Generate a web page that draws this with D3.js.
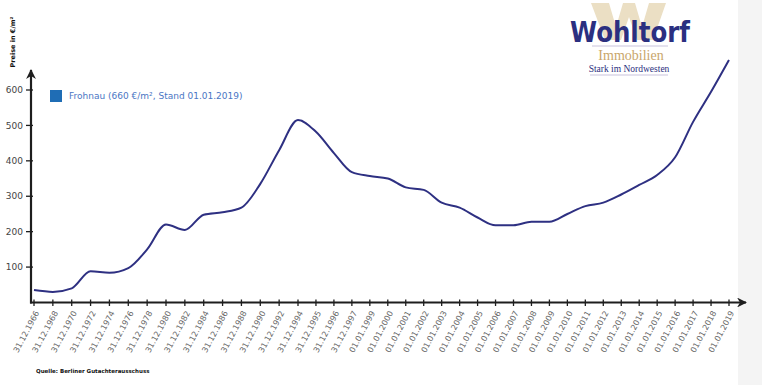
<!DOCTYPE html>
<html>
<head>
<meta charset="utf-8">
<script src="https://cdn.jsdelivr.net/npm/d3@7"></script>
<style>
  body { margin: 0; background: #fff; }
  svg { display: block; font-family: "DejaVu Sans", Verdana, sans-serif; }
</style>
</head>
<body>
<div class="holder"></div>
<script>
"use strict";

const dates = [
  "31.12.1966", "31.12.1968", "31.12.1970", "31.12.1972", "31.12.1974",
  "31.12.1976", "31.12.1978", "31.12.1980", "31.12.1982", "31.12.1984",
  "31.12.1986", "31.12.1988", "31.12.1990", "31.12.1992", "31.12.1994",
  "31.12.1995", "31.12.1996", "31.12.1997", "01.01.1999", "01.01.2000",
  "01.01.2001", "01.01.2002", "01.01.2003", "01.01.2004", "01.01.2005",
  "01.01.2006", "01.01.2007", "01.01.2008", "01.01.2009", "01.01.2010",
  "01.01.2011", "01.01.2012", "01.01.2013", "01.01.2014", "01.01.2015",
  "01.01.2016", "01.01.2017", "01.01.2018", "01.01.2019"
];
const prices = [
  35, 30, 40, 88, 84, 97, 150, 220, 205, 248,
  255, 268, 335, 430, 515, 482, 422, 368, 357, 350,
  325, 318, 282, 268, 240, 218, 218, 228, 228, 250,
  272, 282, 305, 332, 360, 410, 510, 595, 685
];
const yTicks = [100, 200, 300, 400, 500, 600];
const legendLabel = "Frohnau (660 €/m², Stand 01.01.2019)";

const w = 762;
const h = 385;
const axisColor = "#1e1e1e";
const lineColor = "#2e3082";

const svg = d3
  .select(".holder")
  .append("svg")
  .attr("width", w)
  .attr("height", h);

// grey strip on the right
svg.append("rect")
  .attr("x", 738).attr("y", 0)
  .attr("width", w - 738).attr("height", h)
  .attr("fill", "#f4f4f4");

// categories are not evenly spaced in the original: the later ones sit a bit closer
const xIndex = d3.scaleLinear().domain([0, 14, dates.length - 1]).range([34, 298, 729]);
const x = (d) => xIndex(dates.indexOf(d));
const y = d3.scaleLinear().domain([0, 600]).range([302.5, 90]);

// arrow head
const defs = svg.append("defs");
defs.append("marker")
  .attr("id", "arrow")
  .attr("viewBox", "0 0 10 10")
  .attr("refX", 9).attr("refY", 5)
  .attr("markerWidth", 4.5).attr("markerHeight", 4.5)
  .attr("markerUnits", "strokeWidth")
  .attr("orient", "auto")
  .append("path")
  .attr("d", "M0,0 L10,5 L0,10 L3,5 Z")
  .attr("fill", axisColor);

// x axis
const xAxis = svg.append("g")
  .attr("transform", "translate(0," + y(0) + ")");
xAxis.append("line")
  .attr("x1", 30).attr("x2", 746)
  .attr("stroke", axisColor).attr("stroke-width", 2.2)
  .attr("marker-end", "url(#arrow)");
xAxis.selectAll(".xtick")
  .data(dates)
  .enter()
  .append("line")
  .attr("x1", (d) => x(d)).attr("x2", (d) => x(d))
  .attr("y1", -3).attr("y2", 3.5)
  .attr("stroke", axisColor).attr("stroke-width", 1.3);
xAxis.selectAll(".xlabel")
  .data(dates)
  .enter()
  .append("text")
  .attr("transform", (d) => "translate(" + (x(d) + 3) + ",9) rotate(-62)")
  .attr("text-anchor", "end")
  .attr("dy", "0.35em")
  .attr("font-size", 8)
  .attr("fill", "#666")
  .text((d) => d);

// y axis
const yAxis = svg.append("g").attr("transform", "translate(31,0)");
yAxis.append("line")
  .attr("y1", y(0) + 1).attr("y2", 70)
  .attr("stroke", axisColor).attr("stroke-width", 2.2)
  .attr("marker-end", "url(#arrow)");
yAxis.selectAll(".ytick")
  .data(yTicks)
  .enter()
  .append("line")
  .attr("x1", -5).attr("x2", 2)
  .attr("y1", (d) => y(d)).attr("y2", (d) => y(d))
  .attr("stroke", axisColor).attr("stroke-width", 1.3);
yAxis.selectAll(".ylabel")
  .data(yTicks)
  .enter()
  .append("text")
  .attr("x", -8)
  .attr("y", (d) => y(d))
  .attr("dy", "0.35em")
  .attr("text-anchor", "end")
  .attr("font-size", 9)
  .attr("fill", "#444")
  .text((d) => d);

svg.append("text")
  .attr("transform", "translate(15,42) rotate(-90)")
  .attr("text-anchor", "middle")
  .attr("font-size", 6.5)
  .attr("font-weight", "bold")
  .attr("fill", "#111")
  .text("Preise in €/m²");

// price line
const line = d3.line()
  .x((d, i) => x(dates[i]))
  .y((d) => y(d))
  .curve(d3.curveMonotoneX);
svg.append("path")
  .datum(prices)
  .attr("d", line)
  .attr("fill", "none")
  .attr("stroke", lineColor)
  .attr("stroke-width", 2);

// legend
svg.append("rect")
  .attr("x", 50).attr("y", 90)
  .attr("width", 12).attr("height", 12)
  .attr("fill", "#1f6db5");
svg.append("text")
  .attr("x", 69).attr("y", 96)
  .attr("dy", "0.35em")
  .attr("font-size", 9)
  .attr("fill", "#4a76c4")
  .text(legendLabel);

// source
svg.append("text")
  .attr("x", 36).attr("y", 373)
  .attr("font-size", 5.5)
  .attr("font-weight", "bold")
  .attr("fill", "#111")
  .text("Quelle: Berliner Gutachterausschuss");

// logo: big pale W behind the name
const logo = svg.append("g");
logo.append("path")
  .attr("d", "M591,3 L609,3 L616,27 L623,3 L635,3 L642,27 L649,3 L666,3 L653,40 L637,40 L629,17 L621,40 L605,40 Z")
  .attr("fill", "#ebdfc4");
logo.append("text")
  .attr("x", 630).attr("y", 42)
  .attr("text-anchor", "middle")
  .attr("font-family", "'DejaVu Sans', Verdana, sans-serif")
  .attr("font-size", 28)
  .attr("font-weight", "bold")
  .attr("fill", "#2b2f80")
  .attr("textLength", 120)
  .attr("lengthAdjust", "spacingAndGlyphs")
  .text("Wohltorf");
logo.append("line")
  .attr("x1", 592).attr("x2", 668)
  .attr("y1", 46).attr("y2", 46)
  .attr("stroke", "#c9c3dc").attr("stroke-width", 1);
logo.append("text")
  .attr("x", 631).attr("y", 60)
  .attr("text-anchor", "middle")
  .attr("font-family", "'Liberation Serif', 'Times New Roman', serif")
  .attr("font-size", 14)
  .attr("fill", "#c9a66b")
  .text("Immobilien");
logo.append("text")
  .attr("x", 629).attr("y", 71.5)
  .attr("text-anchor", "middle")
  .attr("font-family", "'Liberation Serif', 'Times New Roman', serif")
  .attr("font-size", 9.5)
  .attr("fill", "#2b2f80")
  .text("Stark im Nordwesten");
logo.append("line")
  .attr("x1", 590).attr("x2", 668)
  .attr("y1", 75).attr("y2", 75)
  .attr("stroke", "#c9c3dc").attr("stroke-width", 1);
</script>
</body>
</html>
